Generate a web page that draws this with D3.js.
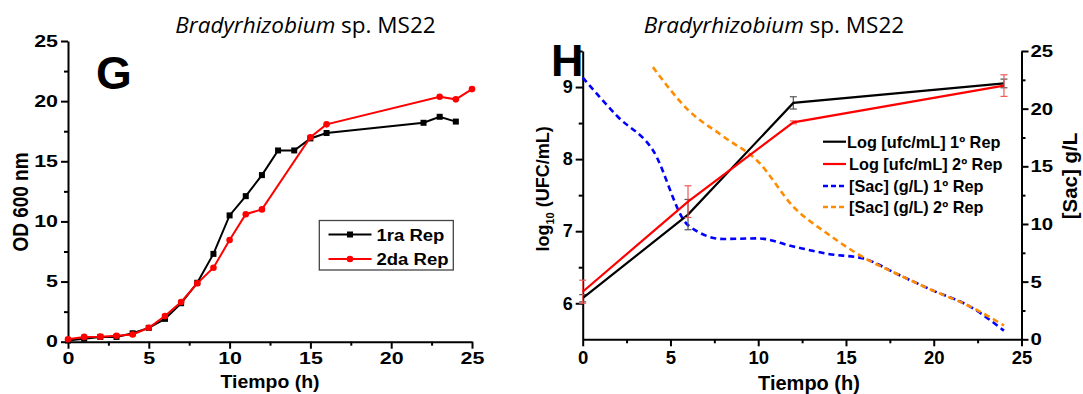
<!DOCTYPE html>
<html>
<head>
<meta charset="utf-8">
<script src="https://cdn.jsdelivr.net/npm/d3@7"></script>
<style>
  html, body { margin: 0; padding: 0; background: #fff; }
  svg { display: block; }
  .axis path, .axis line { stroke: #000; }
  .axis text { font-family: "Liberation Sans", Arial, sans-serif; font-weight: bold; fill: #000; }
</style>
</head>
<body>
<svg id="chart" width="1083" height="394"></svg>
<script>
// ---- Panel G: optical density growth curves ----
const timeOD1 = [0, 1, 2, 3, 4, 5, 6, 7, 8, 9, 10, 11, 12, 13, 14, 15, 16, 22, 23, 24];
const od1     = [0.1, 0.25, 0.4, 0.4, 0.7, 1.15, 1.9, 3.2, 4.9, 7.3, 10.5, 12.1, 13.85, 15.9, 15.9, 16.9, 17.35, 18.2, 18.7, 18.3];
const timeOD2 = [0, 1, 2, 3, 4, 5, 6, 7, 8, 9, 10, 11, 12, 15, 16, 23, 24, 25];
const od2     = [0.2, 0.4, 0.42, 0.5, 0.6, 1.16, 2.13, 3.3, 4.85, 6.15, 8.45, 10.6, 11.0, 17.0, 18.07, 20.37, 20.15, 21.0];
const odLegend = ["1ra Rep", "2da Rep"];

// ---- Panel H: viable counts and sucrose consumption ----
const timeUfc  = [0, 6, 12, 24];
const logUfc1  = [6.07, 7.23, 8.78, 9.05];
const errUfc1  = [0.05, 0.21, 0.085, 0.06];
const logUfc2  = [6.16, 7.41, 8.51, 9.02];
const errUfc2  = [0.16, 0.22, 0.02, 0.15];
const timeSac1 = [0, 2, 4, 6, 8, 10, 12, 14, 16, 18, 20, 22, 24];
const sac1     = [22.7, 19.3, 16.4, 9.9, 8.7, 8.75, 8.05, 7.4, 7.0, 5.6, 4.2, 2.9, 0.75];
const timeSac2 = [4, 6, 8, 10, 12, 14, 16, 18, 20, 22, 24];
const sac2     = [23.6, 19.9, 17.6, 15.4, 11.5, 9.1, 7.1, 5.6, 4.2, 2.9, 1.2];
const hLegend  = ["Log [ufc/mL] 1º Rep", "Log [ufc/mL] 2º Rep", "[Sac] (g/L) 1º Rep", "[Sac] (g/L) 2º Rep"];

const titleItalic = "Bradyrhizobium";
const titleRest = " sp. MS22";

const svg = d3.select("#chart");
const SANS = '"Liberation Sans", Arial, sans-serif';

// widen tick labels horizontally around their anchor
function widen(sel, k) {
  sel.each(function () {
    const t = d3.select(this);
    const x = +t.attr("x") || 0;
    t.attr("x", 0).attr("transform", `translate(${x},0) scale(${k},1)`);
  });
}
function range(a, b, s) { const r = []; for (let v = a; v <= b + 1e-9; v += s) r.push(+v.toFixed(4)); return r; }

function title(cx, y) {
  const t = svg.append("text")
    .attr("x", cx).attr("y", y).attr("text-anchor", "middle")
    .style("font-family", '"Open Sans", sans-serif').style("font-size", "22.5px").attr("fill", "#000");
  t.append("tspan").attr("font-style", "italic").text(titleItalic);
  t.append("tspan").text(titleRest);
}

// ================= Panel G =================
{
  const x = d3.scaleLinear().domain([0, 25]).range([68, 472]);
  const y = d3.scaleLinear().domain([0, 25]).range([341.7, 41]);
  const g = svg.append("g");

  // minor ticks
  g.append("g").attr("class", "axis").attr("transform", `translate(0,${y(0)})`)
    .call(d3.axisBottom(x).tickValues(range(2.5, 22.5, 5)).tickSize(4).tickFormat(""))
    .call(s => s.select(".domain").remove())
    .selectAll("line").attr("stroke-width", 2);
  g.append("g").attr("class", "axis").attr("transform", `translate(${x(0)},0)`)
    .call(d3.axisLeft(y).tickValues(range(2.5, 22.5, 5)).tickSize(4).tickFormat(""))
    .call(s => s.select(".domain").remove())
    .selectAll("line").attr("stroke-width", 2);

  const xa = g.append("g").attr("class", "axis").attr("transform", `translate(0,${y(0)})`)
    .call(d3.axisBottom(x).tickValues(range(0, 25, 5)).tickFormat(d3.format("d")).tickSize(7).tickSizeOuter(0).tickPadding(4));
  xa.select(".domain").attr("stroke-width", 2);
  xa.selectAll("line").attr("stroke-width", 2);
  xa.selectAll("text").style("font-size", "16.5px").call(widen, 1.3);

  const ya = g.append("g").attr("class", "axis").attr("transform", `translate(${x(0)},0)`)
    .call(d3.axisLeft(y).tickValues(range(0, 25, 5)).tickFormat(d3.format("d")).tickSize(7).tickSizeOuter(0).tickPadding(3));
  ya.select(".domain").attr("stroke-width", 2);
  ya.selectAll("line").attr("stroke-width", 2);
  ya.selectAll("text").style("font-size", "16.5px").call(widen, 1.3);

  g.append("text").attr("transform", "translate(270,388) scale(1.08,1)")
    .attr("text-anchor", "middle").style("font-family", SANS).style("font-weight", "bold")
    .style("font-size", "18px").text("Tiempo (h)");
  g.append("text").attr("transform", "translate(28.3,202) scale(1.15,1) rotate(-90)")
    .attr("text-anchor", "middle").style("font-family", SANS).style("font-weight", "bold")
    .style("font-size", "19px").text("OD 600 nm");

  const line = d3.line().x(d => x(d[0])).y(d => y(d[1]));
  const s1 = timeOD1.map((t, i) => [t, od1[i]]);
  const s2 = timeOD2.map((t, i) => [t, od2[i]]);

  g.append("path").datum(s1).attr("d", line).attr("fill", "none").attr("stroke", "#000").attr("stroke-width", 2);
  g.selectAll(".sq").data(s1).join("rect").attr("class", "sq")
    .attr("x", d => x(d[0]) - 3).attr("y", d => y(d[1]) - 3).attr("width", 6).attr("height", 6).attr("fill", "#000");
  g.append("path").datum(s2).attr("d", line).attr("fill", "none").attr("stroke", "#ff0000").attr("stroke-width", 2);
  g.selectAll(".ci").data(s2).join("circle").attr("class", "ci")
    .attr("cx", d => x(d[0])).attr("cy", d => y(d[1])).attr("r", 3.3).attr("fill", "#ff0000");

  // legend
  const lg = g.append("g");
  lg.append("rect").attr("x", 319.3).attr("y", 220.5).attr("width", 134).attr("height", 49.5)
    .attr("fill", "#fff").attr("stroke", "#444").attr("stroke-width", 1.3);
  const rows = [{ c: "#000", m: "sq", y: 234.5 }, { c: "#ff0000", m: "ci", y: 259 }];
  rows.forEach((r, i) => {
    lg.append("line").attr("x1", 328.5).attr("x2", 371.5).attr("y1", r.y).attr("y2", r.y)
      .attr("stroke", r.c).attr("stroke-width", 2);
    if (r.m === "sq") lg.append("rect").attr("x", 347).attr("y", r.y - 3).attr("width", 6).attr("height", 6).attr("fill", r.c);
    else lg.append("circle").attr("cx", 350).attr("cy", r.y).attr("r", 3.3).attr("fill", r.c);
    lg.append("text").attr("transform", `translate(376.5,${r.y + 6}) scale(1.09,1)`)
      .style("font-family", SANS).style("font-weight", "bold").style("font-size", "17px").text(odLegend[i]);
  });

  g.append("text").attr("x", 96).attr("y", 88.5).style("font-family", SANS).style("font-weight", "bold")
    .style("font-size", "46px").text("G");

  title(305.5, 33);
}

// ================= Panel H =================
{
  const x = d3.scaleLinear().domain([0, 25]).range([582.7, 1021.5]);
  const yL = d3.scaleLinear().domain([5.5, 9.5]).range([339.3, 51]);
  const yR = d3.scaleLinear().domain([0, 25]).range([339.3, 51]);
  const g = svg.append("g");

  // minor ticks
  g.append("g").attr("class", "axis").attr("transform", `translate(0,${yL(5.5)})`)
    .call(d3.axisBottom(x).tickValues(range(2.5, 22.5, 5)).tickSize(4).tickFormat(""))
    .call(s => s.select(".domain").remove()).selectAll("line").attr("stroke-width", 2);
  g.append("g").attr("class", "axis").attr("transform", `translate(${x(0)},0)`)
    .call(d3.axisLeft(yL).tickValues(range(6.5, 9.5, 1)).tickSize(4).tickFormat(""))
    .call(s => s.select(".domain").remove()).selectAll("line").attr("stroke-width", 2);
  g.append("g").attr("class", "axis").attr("transform", `translate(${x(25)},0)`)
    .call(d3.axisRight(yR).tickValues(range(2.5, 22.5, 5)).tickSize(4).tickFormat(""))
    .call(s => s.select(".domain").remove()).selectAll("line").attr("stroke-width", 2);

  const xa = g.append("g").attr("class", "axis").attr("transform", `translate(0,${yL(5.5)})`)
    .call(d3.axisBottom(x).tickValues(range(0, 25, 5)).tickFormat(d3.format("d")).tickSize(7).tickSizeOuter(0).tickPadding(5));
  xa.select(".domain").attr("stroke-width", 2);
  xa.selectAll("line").attr("stroke-width", 2);
  xa.selectAll("text").style("font-size", "18.5px");

  const ya = g.append("g").attr("class", "axis").attr("transform", `translate(${x(0)},0)`)
    .call(d3.axisLeft(yL).tickValues([6, 7, 8, 9]).tickFormat(d3.format("d")).tickSize(7).tickSizeOuter(0).tickPadding(3));
  ya.select(".domain").attr("stroke-width", 2);
  ya.selectAll("line").attr("stroke-width", 2);
  ya.selectAll("text").style("font-size", "18px");

  const yra = g.append("g").attr("class", "axis").attr("transform", `translate(${x(25)},0)`)
    .call(d3.axisRight(yR).tickValues(range(0, 25, 5)).tickFormat(d3.format("d")).tickSize(7).tickSizeOuter(0).tickPadding(2));
  yra.select(".domain").attr("stroke-width", 2);
  yra.selectAll("line").attr("stroke-width", 2);
  yra.selectAll("text").style("font-size", "17px").call(widen, 1.2);

  g.append("text").attr("x", 809).attr("y", 389.5).attr("text-anchor", "middle")
    .style("font-family", SANS).style("font-weight", "bold").style("font-size", "20px").text("Tiempo (h)");

  const lt = g.append("text").attr("transform", "translate(548.5,189) rotate(-90)")
    .attr("text-anchor", "middle").style("font-family", SANS).style("font-weight", "bold").style("font-size", "18px");
  lt.append("tspan").text("log");
  lt.append("tspan").attr("dy", 5).style("font-size", "11px").text("10");
  lt.append("tspan").attr("dy", -5).text(" (UFC/mL)");

  g.append("text").attr("transform", "translate(1077,176) rotate(-90)")
    .attr("text-anchor", "middle").style("font-family", SANS).style("font-weight", "bold")
    .style("font-size", "20.5px").text("[Sac] g/L");

  // sucrose curves
  const sacLine = d3.line().curve(d3.curveMonotoneX).x(d => x(d[0])).y(d => yR(d[1]));
  g.append("path").datum(timeSac1.map((t, i) => [t, sac1[i]])).attr("d", sacLine)
    .attr("fill", "none").attr("stroke", "#0000ff").attr("stroke-width", 2.6).attr("stroke-dasharray", "6,4");
  g.append("path").datum(timeSac2.map((t, i) => [t, sac2[i]])).attr("d", sacLine)
    .attr("fill", "none").attr("stroke", "#ff8c00").attr("stroke-width", 2.6).attr("stroke-dasharray", "6,4");

  // log counts with error bars
  const ufcLine = d3.line().x(d => x(d[0])).y(d => yL(d[1]));
  const series = [
    { v: logUfc1, e: errUfc1, c: "#000", ec: "#555" },
    { v: logUfc2, e: errUfc2, c: "#ff0000", ec: "#f05a5a" }
  ];
  series.forEach(s => {
    const pts = timeUfc.map((t, i) => ({ t, v: s.v[i], e: s.e[i] }));
    const eb = g.append("g");
    pts.forEach(p => {
      const cx = x(p.t), y1 = yL(p.v + p.e), y2 = yL(p.v - p.e);
      eb.append("line").attr("x1", cx).attr("x2", cx).attr("y1", y1).attr("y2", y2).attr("stroke", s.ec).attr("stroke-width", 1.2);
      [y1, y2].forEach(yy => eb.append("line").attr("x1", cx - 3.5).attr("x2", cx + 3.5).attr("y1", yy).attr("y2", yy)
        .attr("stroke", s.ec).attr("stroke-width", 1.2));
    });
    g.append("path").datum(pts.map(p => [p.t, p.v])).attr("d", ufcLine)
      .attr("fill", "none").attr("stroke", s.c).attr("stroke-width", 2.2);
  });

  // legend
  const lg = g.append("g");
  const rows = [
    { c: "#000", dash: null, y: 141.7 },
    { c: "#ff0000", dash: null, y: 164 },
    { c: "#0000ff", dash: "5,3", y: 186 },
    { c: "#ff8c00", dash: "5,3", y: 207 }
  ];
  rows.forEach((r, i) => {
    lg.append("line").attr("x1", 823).attr("x2", 846).attr("y1", r.y).attr("y2", r.y)
      .attr("stroke", r.c).attr("stroke-width", r.dash ? 2.4 : 2.2).attr("stroke-dasharray", r.dash);
    lg.append("text").attr("x", i === 0 ? 847 : 849).attr("y", r.y + 5.8)
      .style("font-family", SANS).style("font-weight", "bold").style("font-size", "16.3px").text(hLegend[i]);
  });

  g.append("text").attr("x", 551).attr("y", 75.5).style("font-family", SANS).style("font-weight", "bold")
    .style("font-size", "45px").text("H");

  title(774, 33);
}
</script>
</body>
</html>
